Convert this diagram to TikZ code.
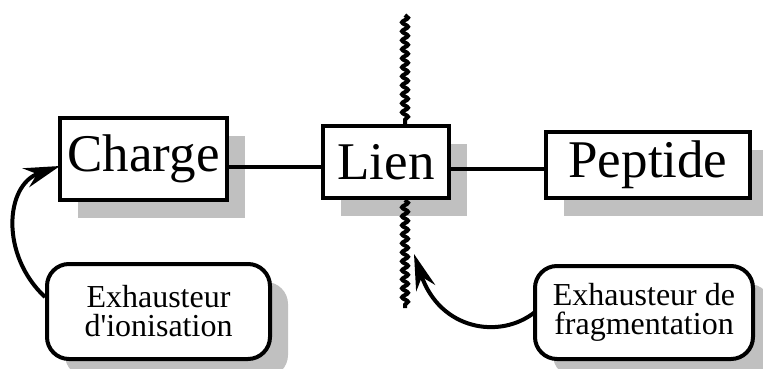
\documentclass[tikz,border=0pt]{standalone}
\usepackage{fontspec}
\setmainfont{Liberation Serif}[Ligatures=TeXOff]
\usetikzlibrary{arrows.meta,decorations.pathmorphing,shadows}
\definecolor{shadowgray}{HTML}{C0C0C0}
\tikzset{
  shad/.style={drop shadow={shadow xshift=18pt, shadow yshift=-18pt, fill=shadowgray, opacity=1}},
  bigbox/.style={shad, draw=black, line width=4pt, fill=white, inner sep=0pt, font=\fontsize{53}{58}\selectfont},
  notebox/.style={shad, draw=black, line width=4pt, fill=white, rounded corners=22pt, inner sep=0pt, align=center, font=\fontsize{32}{29}\selectfont},
  link/.style={line width=4pt},
  wave/.style={line width=4pt, decorate, decoration={snake, segment length=9pt, amplitude=3pt}},
  pointer/.style={line width=4pt, -{Stealth[length=36pt,width=20pt]}},
}
\begin{document}
\begin{tikzpicture}[x=1pt,y=-1pt]
\useasboundingbox (0,0) rectangle (763,369);
\node[bigbox, minimum width=167pt, minimum height=82pt] (charge) at (143.5,159) {Charge};
\node[bigbox, minimum width=126pt, minimum height=72pt] (lien) at (386,162) {Lien};
\node[bigbox, minimum width=204pt, minimum height=66pt] (pep) at (648,165) {Peptide};
\node[notebox, minimum width=223pt, minimum height=95pt] (ion) at (158.5,311.5) {Exhausteur\\d'ionisation};
\node[notebox, minimum width=218pt, minimum height=93pt] (frag) at (644,312.5) {Exhausteur de\\fragmentation};
\coordinate (ya) at (0,167);
\coordinate (yb) at (0,169);
\coordinate (wtop) at (405,15);
\coordinate (wbot) at (405,308);
\draw[link] (charge.east |- ya) -- (lien.west |- ya);
\draw[link] (lien.east |- yb) -- (pep.west |- yb);
\draw[wave] (wtop) -- (wtop |- lien.north);
\draw[wave] (wtop |- lien.south) -- (wbot);
\coordinate (ionstart) at (45,297);
\coordinate (chargetip) at (60,166);
\coordinate (fragstart) at (535,312);
\coordinate (wavetip) at (414,254);
\draw[pointer] (ionstart) .. controls (0,255) and (5,185) .. (chargetip);
\draw[pointer] (fragstart) .. controls (500,340) and (440,330) .. (wavetip);
\end{tikzpicture}
\end{document}
